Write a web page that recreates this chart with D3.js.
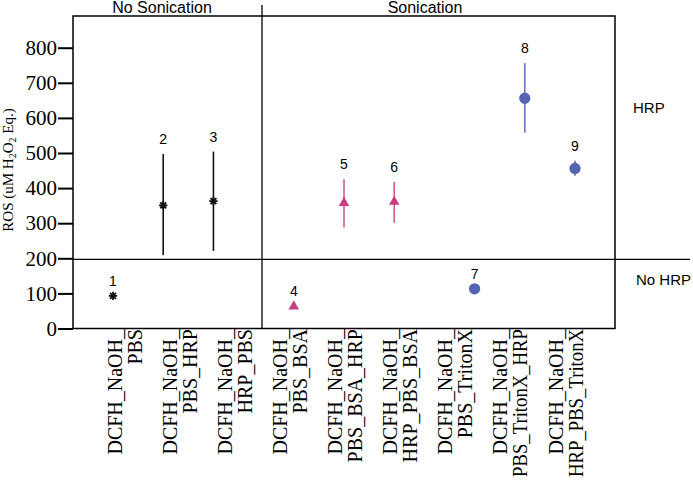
<!DOCTYPE html>
<html lang="en">
<head>
    <meta charset="UTF-8">
    <script src="https://cdn.jsdelivr.net/npm/d3@7"></script>
    <title>ROS chart</title>
    <style>
        body { margin: 0; background: white; }
        .num { font-family: "Liberation Sans", Arial, sans-serif; font-size: 14px; }
        .serif { font-family: "Liberation Serif", "Times New Roman", serif; }
    </style>
</head>
<body>
<div id="chart"></div>
<script>
    /*------------------- data --------------------*/
    const categories = [
        "DCFH_NaOH_PBS", "DCFH_NaOH_PBS_HRP", "DCFH_NaOH_HRP_PBS",
        "DCFH_NaOH_PBS_BSA", "DCFH_NaOH_PBS_BSA_HRP", "DCFH_NaOH_HRP_PBS_BSA",
        "DCFH_NaOH_PBS_TritonX", "DCFH_NaOH_PBS_TritonX_HRP", "DCFH_NaOH_HRP_PBS_TritonX"
    ];
    const pointIds = ["1", "2", "3", "4", "5", "6", "7", "8", "9"];
    const groups = ["none", "none", "none", "bsa", "bsa", "bsa", "triton", "triton", "triton"];
    const means = [93, 351, 363, 63, 358, 361, 113, 656, 456];
    const lower = [null, 209, 221, null, 288, 301, null, 558, 435];
    const upper = [null, 497, 504, null, 425, 418, null, 756, 478];
    const yTicks = [0, 100, 200, 300, 400, 500, 600, 700, 800];
    const hrpCutoff = 197;

    /*------------------- layout --------------------*/
    const width = 693, height = 480;
    const box = { left: 73, right: 615, top: 16, bottom: 328.5 };

    const svg = d3.select("#chart").append("svg")
        .attr("width", width)
        .attr("height", height);

    const y = d3.scaleLinear().domain([0, 800]).range([box.bottom, 47.7]);

    // markers sit on slots, with a wider gap between the three groups
    const groupOrder = ["none", "bsa", "triton"];
    const slot = i => i + groupOrder.indexOf(groups[i]) * 0.6;
    const x = d3.scaleLinear().domain([0, 9.2]).range([113, 575]);

    // tick labels are spread evenly under the axis
    const xLabel = d3.scalePoint().domain(categories).range([125, 566]);

    const styles = {
        none: { color: "#111", bar: "#111" },
        bsa: { color: "#c63d80", bar: "#cc5b98" },
        triton: { color: "#5563b3", bar: "#6671bb" }
    };

    // eight-pointed asterisk
    const burst = {
        draw(ctx, size) {
            const r = Math.sqrt(size) / 2;
            for (let k = 0; k < 4; k++) {
                const a = k * Math.PI / 4;
                ctx.moveTo(-r * Math.cos(a), -r * Math.sin(a));
                ctx.lineTo(r * Math.cos(a), r * Math.sin(a));
            }
        }
    };

    /*------------------- frame --------------------*/
    svg.append("rect")
        .attr("x", box.left).attr("y", box.top)
        .attr("width", box.right - box.left).attr("height", box.bottom - box.top)
        .attr("fill", "none").attr("stroke", "#000").attr("stroke-width", 1.5);

    const divX = 262;
    svg.append("line")
        .attr("x1", divX).attr("x2", divX)
        .attr("y1", 5).attr("y2", box.bottom)
        .attr("stroke", "#000").attr("stroke-width", 1.3);

    svg.append("line")
        .attr("x1", box.left).attr("x2", 690)
        .attr("y1", y(hrpCutoff)).attr("y2", y(hrpCutoff))
        .attr("stroke", "#000").attr("stroke-width", 1.3);

    svg.append("text").attr("class", "num")
        .attr("x", 162).attr("y", 12.5).attr("text-anchor", "middle")
        .style("font-size", "16px")
        .text("No Sonication");
    svg.append("text").attr("class", "num")
        .attr("x", 425).attr("y", 12.5).attr("text-anchor", "middle")
        .style("font-size", "16px")
        .text("Sonication");

    svg.append("text").attr("class", "num")
        .attr("x", 633).attr("y", y(630) + 5.5).style("font-size", "15px")
        .text("HRP");
    svg.append("text").attr("class", "num")
        .attr("x", 636).attr("y", y(140) + 5.5).style("font-size", "15px")
        .attr("textLength", 55)
        .text("No HRP");

    /*------------------- y axis --------------------*/
    const yAxis = svg.append("g")
        .attr("transform", `translate(${box.left},0)`)
        .call(d3.axisLeft(y).tickValues(yTicks).tickSize(15).tickPadding(1).tickFormat(d3.format("d")));
    yAxis.select(".domain").remove();
    yAxis.selectAll(".tick line").attr("stroke", "#000").attr("stroke-width", 2);
    yAxis.selectAll(".tick text")
        .attr("class", "serif")
        .style("font-size", "21px")
        .attr("fill", "#000");

    const yTitle = svg.append("text").attr("class", "serif")
        .attr("transform", "translate(13,170) rotate(-90)")
        .attr("text-anchor", "middle")
        .style("font-size", "15px");
    yTitle.append("tspan").text("ROS (uM H");
    yTitle.append("tspan").attr("dy", 3).style("font-size", "10px").text("2");
    yTitle.append("tspan").attr("dy", -3).text("O");
    yTitle.append("tspan").attr("dy", 3).style("font-size", "10px").text("2");
    yTitle.append("tspan").attr("dy", -3).text(" Eq.)");

    /*------------------- x labels --------------------*/
    const prefix = "DCFH_NaOH_";
    const maxLabel = 148;
    categories.forEach(c => {
        const t = svg.append("text").attr("class", "serif")
            .attr("transform", `translate(${xLabel(c)},329) rotate(-90)`)
            .attr("text-anchor", "end")
            .style("font-size", "20px")
            .attr("fill", "#000");
        t.append("tspan").attr("x", 0).attr("y", -3.5).text(prefix);
        const rest = t.append("tspan").attr("x", 0).attr("y", 16.5).text(c.slice(prefix.length));
        // long second lines are squeezed to stay inside the picture
        if (rest.node().getComputedTextLength() > maxLabel) {
            rest.attr("textLength", maxLabel).attr("lengthAdjust", "spacingAndGlyphs");
        }
    });

    /*------------------- points --------------------*/
    const pts = means.map((m, i) => ({
        id: pointIds[i], mean: m, lo: lower[i], hi: upper[i], group: groups[i], cx: x(slot(i))
    }));

    svg.selectAll(".err")
        .data(pts.filter(d => d.lo !== null))
        .enter().append("line")
        .attr("x1", d => d.cx).attr("x2", d => d.cx)
        .attr("y1", d => y(d.lo)).attr("y2", d => y(d.hi))
        .attr("stroke", d => styles[d.group].bar)
        .attr("stroke-width", 1.6);

    const symbolOf = { none: burst, bsa: d3.symbolTriangle, triton: d3.symbolCircle };
    const sizeOf = { none: 70, bsa: 48, triton: 100 };

    svg.selectAll(".pt")
        .data(pts)
        .enter().append("path")
        .attr("transform", d => `translate(${d.cx},${y(d.mean)})`)
        .attr("d", d => d3.symbol().type(symbolOf[d.group]).size(sizeOf[d.group])())
        .attr("fill", d => styles[d.group].color)
        .attr("stroke", d => d.group === "none" ? "#111" : "none")
        .attr("stroke-width", 1.8);

    svg.selectAll(".lbl")
        .data(pts)
        .enter().append("text").attr("class", "num")
        .attr("x", d => d.cx)
        .attr("y", d => y(d.hi !== null ? d.hi : d.mean) - 10)
        .attr("text-anchor", "middle")
        .text(d => d.id);
</script>
</body>
</html>
